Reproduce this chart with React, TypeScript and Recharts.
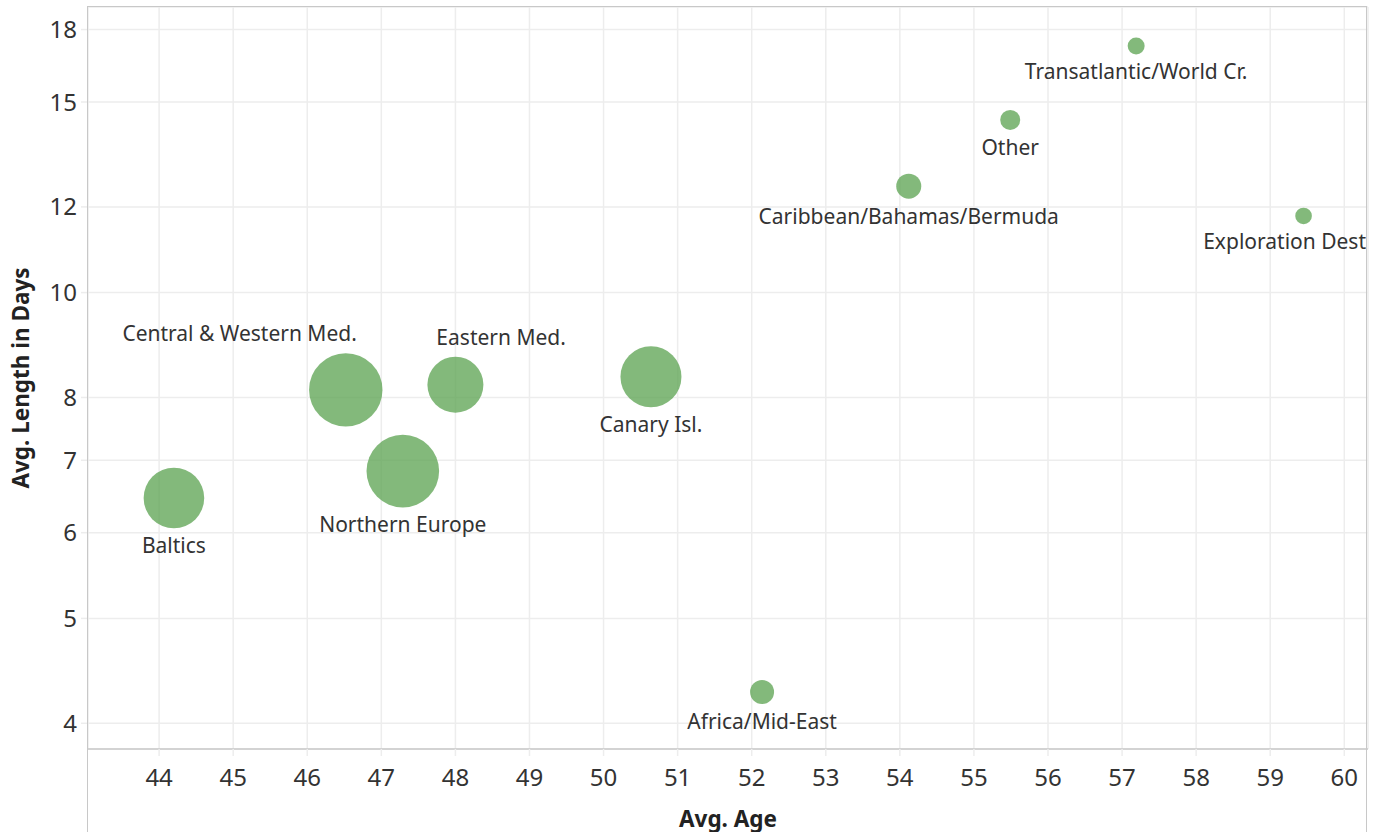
import React from 'react';
import { ScatterChart, Scatter, XAxis, YAxis, ZAxis, CartesianGrid } from 'recharts';

const regions = [
  'Baltics',
  'Central & Western Med.',
  'Northern Europe',
  'Eastern Med.',
  'Canary Isl.',
  'Africa/Mid-East',
  'Caribbean/Bahamas/Bermuda',
  'Other',
  'Transatlantic/World Cr.',
  'Exploration Dest',
];
const avgAge = [44.2, 46.52, 47.29, 48.0, 50.64, 52.14, 54.12, 55.49, 57.19, 59.45];
const avgLength = [6.46, 8.13, 6.84, 8.22, 8.36, 4.275, 12.54, 14.44, 16.9, 11.77];
const tripCount = [918, 1347, 1318, 784, 930, 144, 156, 100, 72, 69];

const xTicks = [44, 45, 46, 47, 48, 49, 50, 51, 52, 53, 54, 55, 56, 57, 58, 59, 60];
const yTicks = [4, 5, 6, 7, 8, 10, 12, 15, 17.5];

const data = regions.map((name, i) => ({
  name,
  age: avgAge[i],
  length: avgLength[i],
  trips: tripCount[i],
}));

const W = 1385;
const H = 832;
const M = { top: 7, right: 17, bottom: 0, left: 0 };
const Y_AXIS_W = 88;
const X_AXIS_H = 83;
const PLOT_RIGHT = W - M.right;

const FONT = '"Noto Sans", "Open Sans", sans-serif';
const TEXT = '#333333';
const GRID = '#ededed';
const BORDER = '#c8c8c8';
const MARK = '#59a14f';

const placement: Record<string, string> = {
  'Central & Western Med.': 'aboveLeft',
  'Eastern Med.': 'aboveRight',
  'Exploration Dest': 'belowEdge',
};

const Bubble = (props: any) => {
  const { cx, cy, size, payload } = props;
  if (cx == null || cy == null) return null;
  const r = Math.sqrt(Math.max(size, 0) / Math.PI);
  const mode = placement[payload.name] || 'below';
  let tx = cx;
  let ty = cy + r + 17;
  let anchor: any = 'middle';
  if (mode === 'aboveLeft') {
    tx = cx + 0.3 * r;
    ty = cy - r - 20;
    anchor = 'end';
  } else if (mode === 'aboveRight') {
    tx = cx - 0.68 * r;
    ty = cy - r - 20;
    anchor = 'start';
  } else if (mode === 'belowEdge') {
    tx = PLOT_RIGHT - 2;
    anchor = 'end';
  }
  return (
    <g>
      <circle cx={cx} cy={cy} r={r} fill={MARK} fillOpacity={0.75} />
      <text
        x={tx}
        y={ty}
        textAnchor={anchor}
        dominantBaseline="central"
        fontFamily={FONT}
        fontSize={21}
        fill={TEXT}
      >
        {payload.name}
      </text>
    </g>
  );
};

const YTitle = (props: any) => {
  const vb = props.viewBox || {};
  const cy = vb.y + vb.height / 2;
  const x = 20;
  return (
    <text
      x={x}
      y={cy}
      transform={`rotate(-90, ${x}, ${cy})`}
      textAnchor="middle"
      dominantBaseline="central"
      fontFamily={FONT}
      fontWeight="bold"
      fontSize={22.5}
      fill="#222"
    >
      Avg. Length in Days
    </text>
  );
};

const XTitle = (props: any) => {
  const vb = props.viewBox || {};
  const cx = vb.x + vb.width / 2;
  return (
    <text
      x={cx}
      y={818}
      textAnchor="middle"
      dominantBaseline="central"
      fontFamily={FONT}
      fontWeight="bold"
      fontSize={22.5}
      fill="#222"
    >
      Avg. Age
    </text>
  );
};

export default function App() {
  return (
    <div style={{ position: 'absolute', left: 0, top: 0, width: W, height: H, background: '#fff' }}>
      <ScatterChart width={W} height={H} margin={M}>
        <CartesianGrid stroke={GRID} strokeWidth={1.5} />
        <XAxis
          type="number"
          dataKey="age"
          domain={[43.04, 60.32]}
          allowDataOverflow
          ticks={xTicks}
          height={X_AXIS_H}
          axisLine={{ stroke: BORDER, strokeWidth: 1.5 }}
          tickLine={{ stroke: GRID, strokeWidth: 1.5 }}
          tickSize={7}
          tickMargin={13}
          tick={{ fontFamily: FONT, fontSize: 24, fill: TEXT }}
          label={{ content: XTitle }}
        />
        <YAxis
          type="number"
          dataKey="length"
          scale="log"
          domain={[3.787, 18.36]}
          allowDataOverflow
          ticks={yTicks}
          tickFormatter={(v: number) => String(Math.round(v))}
          width={Y_AXIS_W}
          axisLine={false}
          tickLine={{ stroke: GRID, strokeWidth: 1.5 }}
          tickSize={7}
          tickMargin={4}
          tick={{ fontFamily: FONT, fontSize: 24, fill: TEXT }}
          label={{ content: YTitle }}
        />
        <ZAxis type="number" dataKey="trips" domain={[0, 1347]} range={[0, Math.PI * 1347]} />
        <Scatter data={data} shape={Bubble} isAnimationActive={false} />
      </ScatterChart>
      <div
        style={{
          position: 'absolute',
          left: Y_AXIS_W - 1,
          top: M.top - 1,
          width: PLOT_RIGHT - Y_AXIS_W,
          height: H - M.top + 1,
          borderLeft: `1.5px solid ${BORDER}`,
          borderRight: `1.5px solid ${BORDER}`,
          borderTop: `1.5px solid ${BORDER}`,
          boxSizing: 'border-box',
          pointerEvents: 'none',
        }}
      />
    </div>
  );
}
